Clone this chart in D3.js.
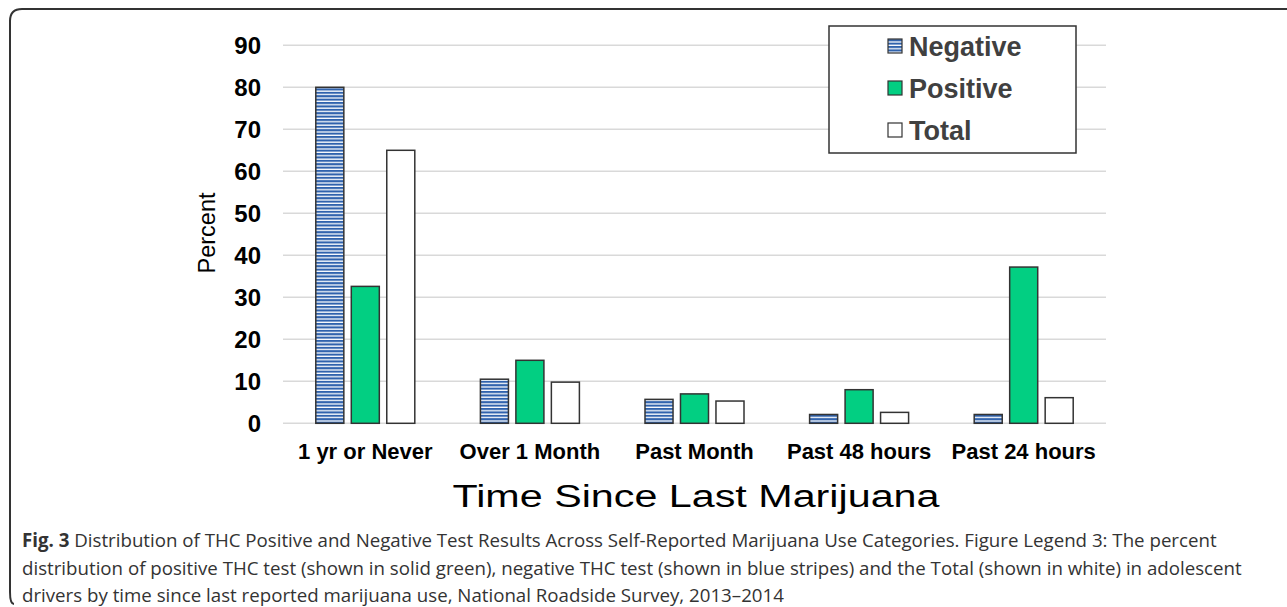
<!DOCTYPE html>
<html lang="en">
<head>
<meta charset="UTF-8">
<title>THC test results by time since last marijuana use</title>
<script src="https://d3js.org/d3.v7.min.js"></script>
<style>
    body { margin: 0; padding: 0; background: #fff; }
    svg { display: block; }
    .tick-label { font-family: "Liberation Sans", Arial, sans-serif; font-weight: bold; font-size: 24px; fill: #000; }
    .cat-label { font-family: "Liberation Sans", Arial, sans-serif; font-weight: bold; font-size: 22px; fill: #000; }
    .axis-title { font-family: "Liberation Sans", Arial, sans-serif; fill: #000; }
    .legend-text { font-family: "Liberation Sans", Arial, sans-serif; font-weight: bold; font-size: 27px; fill: #404040; }
    .caption { font-family: "Open Sans", "Noto Sans", sans-serif; font-size: 18.7px; fill: #333; }
</style>
</head>
<body>
<svg id="chart" width="1287" height="607"></svg>
<script>
    // Data
    const categories = ["1 yr or Never", "Over 1 Month", "Past Month", "Past 48 hours", "Past 24 hours"];
    const seriesNames = ["Negative", "Positive", "Total"];
    const negative = [80, 10.5, 5.7, 2.1, 2.1];
    const positive = [32.6, 15, 7, 8, 37.2];
    const total = [65, 9.8, 5.3, 2.6, 6.1];
    const yTicks = [0, 10, 20, 30, 40, 50, 60, 70, 80, 90];

    const captionLines = [
        ["Fig. 3", " Distribution of THC Positive and Negative Test Results Across Self-Reported Marijuana Use Categories. Figure Legend 3: The percent"],
        ["", "distribution of positive THC test (shown in solid green), negative THC test (shown in blue stripes) and the Total (shown in white) in adolescent"],
        ["", "drivers by time since last reported marijuana use, National Roadside Survey, 2013\u20132014"]
    ];

    const seriesValues = [negative, positive, total];
    const rows = categories.map((c, i) => ({
        category: c,
        values: seriesNames.map((s, j) => ({ series: s, value: seriesValues[j][i] }))
    }));

    const svg = d3.select("#chart");

    // Pattern for the striped "Negative" bars
    const defs = svg.append("defs");
    const stripes = defs.append("pattern")
        .attr("id", "stripes")
        .attr("patternUnits", "userSpaceOnUse")
        .attr("width", 8)
        .attr("height", 3.4);
    stripes.append("rect").attr("width", 8).attr("height", 3.4).attr("fill", "#ffffff");
    stripes.append("rect").attr("width", 8).attr("height", 2.1).attr("fill", "#2f62ad");

    const fills = { Negative: "url(#stripes)", Positive: "#02cf82", Total: "#ffffff" };

    // Figure frame (open on the right)
    svg.append("path")
        .attr("d", "M1290,9 H22 Q10,9 10,21 V592 Q10,604 14,604")
        .attr("fill", "none")
        .attr("stroke", "#333")
        .attr("stroke-width", 2);

    // Scales
    const x0 = d3.scaleBand().domain(categories).range([283, 1106]).padding(0);
    const innerW = 99;
    const x1 = d3.scaleBand().domain(seriesNames)
        .range([(x0.bandwidth() - innerW) / 2, (x0.bandwidth() + innerW) / 2])
        .paddingInner(0.21).paddingOuter(0);
    const y = d3.scaleLinear().domain([0, 90]).range([423.3, 45.3]);

    // Gridlines
    svg.append("g")
        .selectAll("line")
        .data(yTicks)
        .join("line")
        .attr("x1", 283)
        .attr("x2", 1106)
        .attr("y1", d => y(d))
        .attr("y2", d => y(d))
        .attr("stroke", "#d9d9d9")
        .attr("stroke-width", 1.5);

    // Y tick labels
    svg.append("g")
        .selectAll("text")
        .data(yTicks)
        .join("text")
        .attr("class", "tick-label")
        .attr("x", 261)
        .attr("y", d => y(d))
        .attr("dy", "0.36em")
        .attr("text-anchor", "end")
        .text(d => d);

    // Bars
    svg.append("g")
        .selectAll("g")
        .data(rows)
        .join("g")
        .attr("transform", d => `translate(${x0(d.category)},0)`)
        .selectAll("rect")
        .data(d => d.values)
        .join("rect")
        .attr("x", d => x1(d.series))
        .attr("y", d => y(d.value))
        .attr("width", x1.bandwidth())
        .attr("height", d => y(0) - y(d.value))
        .attr("fill", d => fills[d.series])
        .attr("stroke", "#333")
        .attr("stroke-width", 1.5);

    // Category labels
    svg.append("g")
        .selectAll("text")
        .data(categories)
        .join("text")
        .attr("class", "cat-label")
        .attr("x", d => x0(d) + x0.bandwidth() / 2)
        .attr("y", 459)
        .attr("text-anchor", "middle")
        .text(d => d);

    // Axis titles
    svg.append("text")
        .attr("class", "axis-title")
        .attr("x", 696)
        .attr("y", 507)
        .attr("text-anchor", "middle")
        .attr("textLength", 487)
        .attr("lengthAdjust", "spacingAndGlyphs")
        .style("font-size", "31px")
        .text("Time Since Last Marijuana");

    svg.append("text")
        .attr("class", "axis-title")
        .attr("transform", "translate(207,233) rotate(-90)")
        .attr("dy", "0.35em")
        .attr("text-anchor", "middle")
        .style("font-size", "23.5px")
        .text("Percent");

    // Legend
    const legend = svg.append("g");
    legend.append("rect")
        .attr("x", 829)
        .attr("y", 26)
        .attr("width", 247)
        .attr("height", 127)
        .attr("fill", "#fff")
        .attr("stroke", "#333")
        .attr("stroke-width", 1.5);

    const items = legend.selectAll("g.item")
        .data(seriesNames)
        .join("g")
        .attr("class", "item")
        .attr("transform", (d, i) => `translate(888,${46 + i * 42})`);
    items.append("rect")
        .attr("x", 0)
        .attr("y", -7)
        .attr("width", 14)
        .attr("height", 14)
        .attr("fill", d => fills[d])
        .attr("stroke", "#333")
        .attr("stroke-width", 1.2);
    items.append("text")
        .attr("class", "legend-text")
        .attr("x", 21)
        .attr("dy", "0.36em")
        .text(d => d);

    // Caption, one text element per line
    captionLines.forEach((line, i) => {
        const t = svg.append("text")
            .attr("class", "caption")
            .attr("x", 22)
            .attr("y", 547 + i * 27.5);
        if (line[0]) t.append("tspan").style("font-weight", "bold").text(line[0]);
        t.append("tspan").text(line[1]);
    });
</script>
</body>
</html>
